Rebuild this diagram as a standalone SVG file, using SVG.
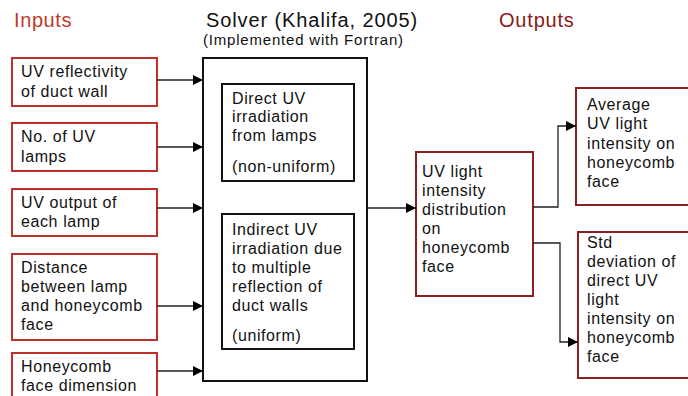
<svg xmlns="http://www.w3.org/2000/svg" width="688" height="396" viewBox="0 0 688 396">
<defs>
<style>
text{font-family:"Liberation Sans",Arial,sans-serif;font-size:16px;letter-spacing:0.6px;fill:#111}
.hdr{font-size:20px;letter-spacing:0.6px}
.inbox{fill:#fff;stroke:#c0302a;stroke-width:2}
.outbox{fill:#fff;stroke:#8b1e1e;stroke-width:2}
.solver{fill:#fff;stroke:#111;stroke-width:2}
.conn{fill:none;stroke:#222;stroke-width:1.3}
</style>
<marker id="arr" markerWidth="10" markerHeight="10" refX="10" refY="5" orient="auto" markerUnits="userSpaceOnUse">
<path d="M0,0 L10,5 L0,10 Z" fill="#000"/>
</marker>
</defs>
<rect width="688" height="396" fill="#fff"/>
<text class="hdr" x="14" y="27" fill="#c0392b" style="fill:#c0392b">Inputs</text>
<text class="hdr" x="499" y="27" style="fill:#8b1a1a;letter-spacing:0.8px">Outputs</text>
<text class="hdr" x="206" y="27" style="letter-spacing:0.9px">Solver (Khalifa, 2005)</text>
<text x="203" y="45" style="font-size:15px;letter-spacing:0.8px">(Implemented with Fortran)</text>

<g id="in1"><rect class="inbox" x="12" y="58" width="145" height="48"/>
<text x="21" y="77">UV reflectivity</text><text x="21" y="97">of duct wall</text></g>
<g id="in2"><rect class="inbox" x="12" y="123" width="145" height="48"/>
<text x="21" y="142">No. of UV</text><text x="21" y="162">lamps</text></g>
<g id="in3"><rect class="inbox" x="12" y="189" width="145" height="47"/>
<text x="21" y="208">UV output of</text><text x="21" y="227">each lamp</text></g>
<g id="in4"><rect class="inbox" x="12" y="254" width="145" height="86"/>
<text x="21" y="273">Distance</text><text x="21" y="292">between lamp</text><text x="21" y="311">and honeycomb</text><text x="21" y="330">face</text></g>
<g id="in5"><rect class="inbox" x="12" y="353" width="145" height="50"/>
<text x="21" y="372">Honeycomb</text><text x="21" y="391">face dimension</text></g>

<g id="solver"><rect class="solver" x="203" y="58" width="164" height="323"/></g>
<g id="direct"><rect class="solver" x="222" y="84" width="132" height="97"/>
<text x="232" y="104">Direct UV</text><text x="232" y="122">irradiation</text><text x="232" y="141">from lamps</text><text x="232" y="172">(non-uniform)</text></g>
<g id="indirect"><rect class="solver" x="222" y="214" width="132" height="135"/>
<text x="232" y="235">Indirect UV</text><text x="232" y="254">irradiation due</text><text x="232" y="273">to multiple</text><text x="232" y="292">reflection of</text><text x="232" y="311">duct walls</text><text x="232" y="341">(uniform)</text></g>

<g id="dist"><rect class="outbox" x="416" y="152" width="117" height="144"/>
<text x="422" y="177">UV light</text><text x="422" y="196">intensity</text><text x="422" y="215">distribution</text><text x="422" y="234">on</text><text x="422" y="253">honeycomb</text><text x="422" y="272">face</text></g>

<g id="avg"><rect class="outbox" x="576" y="88" width="120" height="117"/>
<text x="587" y="110">Average</text><text x="587" y="129">UV light</text><text x="587" y="149">intensity on</text><text x="587" y="168">honeycomb</text><text x="587" y="187">face</text></g>
<g id="std"><rect class="outbox" x="578" y="232" width="120" height="146"/>
<text x="587" y="248">Std</text><text x="587" y="267">deviation of</text><text x="587" y="286">direct UV</text><text x="587" y="305">light</text><text x="587" y="324">intensity on</text><text x="587" y="343">honeycomb</text><text x="587" y="362">face</text></g>

<g id="connectors">
<path class="conn" marker-end="url(#arr)" d="M157,80 H203"/>
<path class="conn" marker-end="url(#arr)" d="M157,147 H203"/>
<path class="conn" marker-end="url(#arr)" d="M157,208 H203"/>
<path class="conn" marker-end="url(#arr)" d="M157,306 H203"/>
<path class="conn" marker-end="url(#arr)" d="M157,371 H203"/>
<path class="conn" marker-end="url(#arr)" d="M367,208 H416"/>
<path class="conn" marker-end="url(#arr)" d="M533,207 H558 V126 H576"/>
<path class="conn" marker-end="url(#arr)" d="M533,243 H560 V342 H578"/>
</g>
</svg>
